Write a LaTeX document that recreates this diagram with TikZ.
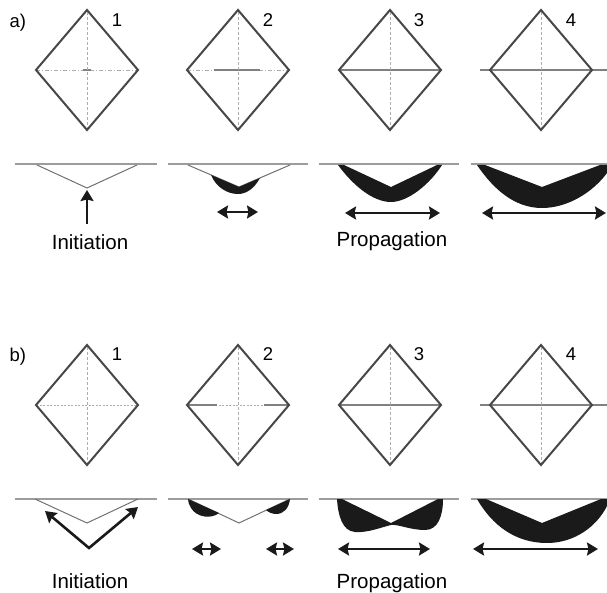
\documentclass[tikz,border=0pt]{standalone}
\usepackage{fontspec}
\setmainfont{Liberation Sans}
\usetikzlibrary{arrows.meta}
\definecolor{outlinegrey}{HTML}{474747}
\definecolor{axisgrey}{HTML}{ADADAD}
\definecolor{crackgrey}{HTML}{808080}
\definecolor{surfgrey}{HTML}{9C9C9C}
\definecolor{profgrey}{HTML}{707070}
\definecolor{crackblack}{HTML}{1A1A1A}
\tikzset{
  crystal/.style={draw=outlinegrey, line width=2pt},
  crackaxis/.style={draw=axisgrey, line width=0.9pt, dash pattern=on 4pt off 2pt on 1pt off 2pt},
  crackdots/.style={draw=axisgrey, line width=0.9pt, dash pattern=on 2pt off 1.5pt},
  crackline/.style={draw=crackgrey, line width=2pt},
  surface/.style={draw=surfgrey, line width=2pt},
  profile/.style={draw=profgrey, line width=1pt},
  crackfill/.style={fill=crackblack, draw=none},
  growarrow/.style={draw=crackblack, line width=2.6pt, {Stealth[length=11pt,width=13pt,inset=1.5pt]}-{Stealth[length=11pt,width=13pt,inset=1.5pt]}},
  initarrow/.style={draw=crackblack, line width=2.6pt, -{Stealth[length=11pt,width=13pt,inset=1.5pt]}},
  steplabel/.style={anchor=base, font=\fontsize{18.5}{22}\selectfont},
  stagelabel/.style={anchor=base, font=\fontsize{20.5}{24}\selectfont}
}

\begin{document}
\begin{tikzpicture}[x=1pt, y=-1pt]
  \useasboundingbox (0,0) rectangle (607,593);

  % crack lines inside the crystals
  \draw[crackaxis] (36,70) -- (138,70);
  \draw[crackline] (83,70) -- (91,70);
  \draw[crackaxis] (187,70) -- (289,70);
  \draw[crackline] (214,70) -- (260,70);
  \draw[crackline] (339,70) -- (441,70);
  \draw[crackline] (480,70) -- (607,70);
  \draw[crackdots] (36,405) -- (138,405);
  \draw[crackdots] (187,405) -- (289,405);
  \draw[crackline] (187,405) -- (217,405);
  \draw[crackline] (264,405) -- (289,405);
  \draw[crackline] (339,405) -- (441,405);
  \draw[crackline] (480,405) -- (607,405);

  % crystal outlines, vertical axes
  \foreach \cx in {87,238,390,541}{
    \foreach \cy in {70,405}{
      \draw[crackaxis, dash pattern=on 3pt off 2pt] (\cx,\cy-58) -- (\cx,\cy+58);
      \draw[crystal] (\cx,\cy-60) -- (\cx+51,\cy) -- (\cx,\cy+60) -- (\cx-51,\cy) -- cycle;
    }
  }

  % surfaces
  \foreach \sy in {164,499}{
    \foreach \xa/\xb in {15/157,168/308,319/459,471/607}
      \draw[surface] (\xa,\sy) -- (\xb,\sy);
  }

  % a) cross sections
  \draw[profile] (37,165) -- (87,188) -- (137,165);
  \draw[initarrow] (87,224) -- (87,190);
  \draw[profile] (188,165) -- (239,187) -- (290,165);
  \fill[crackfill] (211,175) -- (239,187) -- (260,178)
    .. controls (254,189) and (246,194) .. (238,194)
    .. controls (227,194) and (216,187) .. cycle;
  \draw[growarrow] (217,212) -- (258,212);
  \fill[crackfill] (338,165) -- (344,165) -- (391,187) -- (437,165) -- (442,165)
    .. controls (430,184) and (408,202) .. (391,202)
    .. controls (372,202) and (352,184) .. cycle;
  \draw[growarrow] (345,213) -- (440,213);
  \fill[crackfill] (477,165) -- (485,165) -- (542,187) -- (600,165) -- (607,165) -- (607,173)
    .. controls (593,192) and (568,208) .. (542,208)
    .. controls (515,208) and (494,190) .. cycle;
  \draw[growarrow] (482,213) -- (606,213);

  % b) cross sections
  \draw[profile] (35,499) -- (87,523) -- (138,499);
  \draw[growarrow, line join=miter] (45,511) -- (89,548) -- (138,507);
  \draw[profile] (188,499) -- (239,523) -- (290,499);
  \fill[crackfill] (188,499) -- (219,513)
    .. controls (212,519) and (197,518) .. (191,508)
    .. controls (189,505) and (188,502) .. cycle;
  \fill[crackfill] (266,510) -- (290,499)
    .. controls (289,508) and (284,514) .. (276,514)
    .. controls (272,514) and (268,512) .. cycle;
  \draw[growarrow] (192,549) -- (221,549);
  \draw[growarrow] (266,549) -- (294,549);
  \fill[crackfill] (337,499) -- (342,499) -- (391,523) -- (438,499) -- (443,499)
    .. controls (443,516) and (438,530) .. (425,530)
    .. controls (410,530) and (398,524) .. (391,525)
    .. controls (382,527) and (368,533) .. (355,532)
    .. controls (342,531) and (338,515) .. cycle;
  \draw[growarrow] (338,549) -- (430,549);
  \fill[crackfill] (477,499) -- (486,499) -- (542,523) -- (601,499) -- (607,499) -- (607,506)
    .. controls (597,526) and (575,543) .. (547,543)
    .. controls (515,543) and (492,525) .. cycle;
  \draw[growarrow] (473,549) -- (598,549);

  % labels
  \node[steplabel, anchor=base west] (panelA) at (6,28) {a)};
  \node[steplabel] (stepA1) at (117,27) {1};
  \node[steplabel] (stepA2) at (268,27) {2};
  \node[steplabel] (stepA3) at (419,27) {3};
  \node[steplabel] (stepA4) at (571,27) {4};
  \node[steplabel, anchor=base west] (panelB) at (6,361) {b)};
  \node[steplabel] (stepB1) at (117,360) {1};
  \node[steplabel] (stepB2) at (268,360) {2};
  \node[steplabel] (stepB3) at (419,360) {3};
  \node[steplabel] (stepB4) at (571,360) {4};
  \node[stagelabel] (initA) at (90,250) {Initiation};
  \node[stagelabel] (propA) at (392,247) {Propagation};
  \node[stagelabel] (initB) at (90,588) {Initiation};
  \node[stagelabel] (propB) at (392,588) {Propagation};
\end{tikzpicture}
\end{document}
